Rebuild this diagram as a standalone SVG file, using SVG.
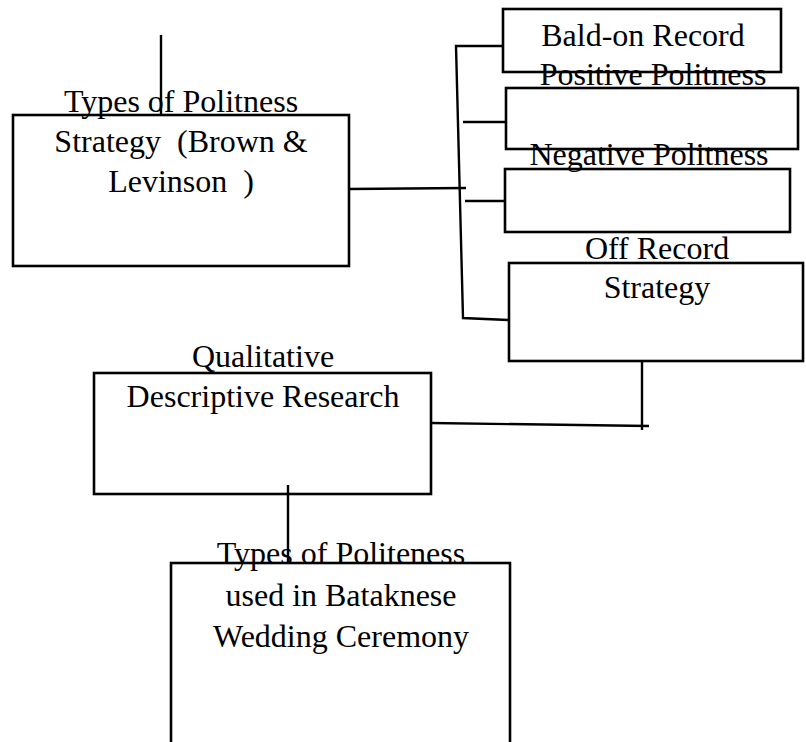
<svg xmlns="http://www.w3.org/2000/svg" width="806" height="742" viewBox="0 0 806 742">
<style>
.box{fill:none;stroke:#000;stroke-width:2.6}
.ln{fill:none;stroke:#000;stroke-width:2.4}
text{font-family:"Liberation Serif","Times New Roman",serif;font-size:32px;fill:#000;text-anchor:middle}
</style>
<rect width="806" height="742" fill="#fff"/>
<g id="connectors">
<line class="ln" x1="161" y1="35" x2="161" y2="115"/>
<line class="ln" x1="349" y1="189" x2="466" y2="188"/>
<polyline class="ln" points="503,46 456,46 463,318 508,320"/>
<line class="ln" x1="463" y1="122" x2="506" y2="122"/>
<line class="ln" x1="465" y1="201" x2="505" y2="201"/>
<line class="ln" x1="642" y1="361" x2="642" y2="430"/>
<line class="ln" x1="431" y1="423" x2="649" y2="426"/>
<line class="ln" x1="288" y1="485" x2="288" y2="563"/>
</g>
<g id="node-types-politness">
<rect class="box" x="13" y="115" width="336" height="151"/>
<text x="181" y="112">Types of Politness</text>
<text x="181" y="152" xml:space="preserve">Strategy  (Brown &amp;</text>
<text x="181" y="192" xml:space="preserve">Levinson  )</text>
</g>
<g id="node-bald-on">
<rect class="box" x="503" y="9" width="278" height="63"/>
<text x="643" y="46">Bald-on Record</text>
</g>
<g id="node-positive">
<rect class="box" x="506" y="88" width="292" height="61"/>
<text x="653" y="85">Positive Politness</text>
</g>
<g id="node-negative">
<rect class="box" x="505" y="169" width="285" height="63"/>
<text x="649" y="165">Negative Politness</text>
</g>
<g id="node-off-record">
<rect class="box" x="509" y="263" width="294" height="98"/>
<text x="657" y="259">Off Record</text>
<text x="657" y="298">Strategy</text>
</g>
<g id="node-qualitative">
<rect class="box" x="94" y="373" width="337" height="121"/>
<text x="263" y="367">Qualitative</text>
<text x="263" y="407">Descriptive Research</text>
</g>
<g id="node-wedding">
<rect class="box" x="171" y="563" width="339" height="190"/>
<text x="341" y="564">Types of Politeness</text>
<text x="341" y="606">used in Bataknese</text>
<text x="341" y="647">Wedding Ceremony</text>
</g>
</svg>
